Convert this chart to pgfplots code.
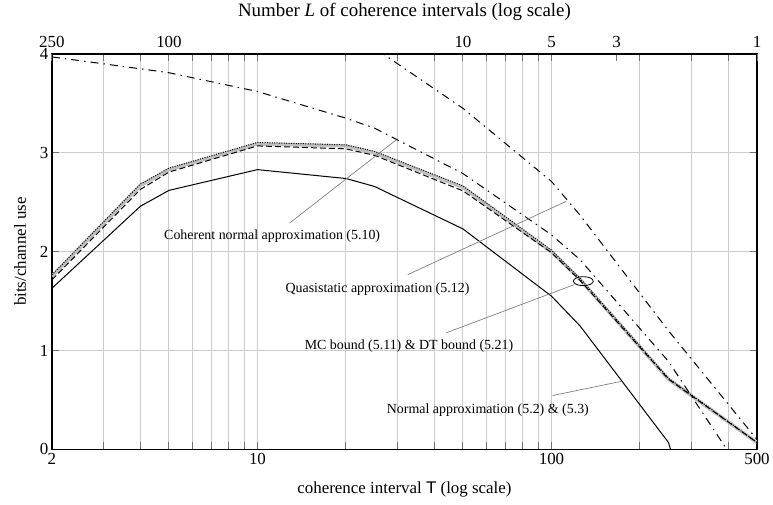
\documentclass[border=0pt]{standalone}
\usepackage{fontspec}
\setmainfont{Liberation Serif}
\setsansfont{Liberation Sans}
\usepackage{pgfplots}
\pgfplotsset{compat=1.18}

\tikzset{
  plot_mc/.style={color=black!25, line width=3.5bp},
  plot_dt/.style={color=black, line width=1bp, dash pattern=on 1bp off 1.4bp},
  plot_dash/.style={color=black, line width=1bp, dash pattern=on 6bp off 3bp},
  plot_na/.style={color=black, line width=1bp},
  plot_dd/.style={color=black, line width=1bp, dash pattern=on 8bp off 5bp on 1.5bp off 5bp},
  pointer/.style={color=black!50, line width=0.7bp},
  lbl/.style={font=\fontsize{14}{16}\selectfont, inner sep=0pt},
}

\begin{document}
\begin{tikzpicture}
\begin{axis}[%
  scale only axis, width=706bp, height=396bp,
  xmode=log, xmin=2, xmax=500,
  ymin=0, ymax=4,
  % x-axis
  xtick={2,10,100,500},
  xticklabels={2,10,100,500},
  minor xtick={3,4,5,6,7,8,9,20,30,40,50,60,70,80,90,200,300,400},
  xmajorgrids=true, xminorgrids=true,
  % y-axis
  ytick={0,1,2,3,4},
  ymajorgrids=true,
  grid style={black!20, line width=1bp},
  major grid style={black!20, line width=1bp},
  minor grid style={black!20, line width=1bp},
  tick style={black!55, line width=1bp},
  major tick length=7bp, minor tick length=7bp,
  tick align=inside,
  axis line style={black, line width=1.3bp},
  tick label style={font=\fontsize{17}{20}\selectfont},
  label style={font=\fontsize{17}{20}\selectfont},
  /pgf/number format/assume math mode=true,
  xlabel={coherence interval \textsf{T} (log scale)},
  ylabel={bits/channel use},
  xlabel style={at={([yshift=-40bp]axis description cs:0.5,0)}, anchor=center},
  ylabel style={at={([xshift=-32bp]axis description cs:0,0.5)}, anchor=center},
]
  \coordinate (O) at (rel axis cs:0,0);

  % MC bound (gray) and DT bound (dotted)
  \addplot [plot_mc] coordinates {
    (2,1.75) (4,2.67) (5,2.83) (10,3.09) (20,3.07) (25,3.00)
    (50,2.65) (100,2.00) (125,1.72) (250,0.71) (500,0.07)
  };
  \addplot [plot_dt] coordinates {
    (2,1.765) (4,2.685) (5,2.845) (10,3.105) (20,3.08) (25,3.015)
    (50,2.665) (100,2.015) (125,1.73) (250,0.72) (500,0.07)
  };
  \addplot [plot_dash] coordinates {
    (2,1.715) (4,2.63) (5,2.805) (10,3.07) (20,3.04) (25,2.975)
    (50,2.615) (100,1.99) (125,1.71) (250,0.71) (500,0.07)
  };
  % normal approximation
  \addplot [plot_na] coordinates {
    (2,1.63) (4,2.46) (5,2.62) (10,2.83) (20,2.74) (25,2.66)
    (50,2.23) (100,1.55) (125,1.25) (250,0.07) (500,-3)
  };
  % coherent normal approximation
  \addplot [plot_dd] coordinates {
    (2,3.97) (4,3.85) (5,3.81) (10,3.62) (20,3.35) (25,3.25)
    (50,2.79) (100,2.17) (125,1.92) (250,0.89) (500,-0.46)
  };
  % quasistatic approximation
  \addplot [plot_dd] coordinates {
    (20,4.26) (25,4.06) (50,3.45) (100,2.71) (125,2.37) (250,1.20) (500,0.10)
  };

  % annotations
  \draw [pointer] (axis cs:12.87,2.29) -- (axis cs:29.65,3.131);
  \node [lbl] at (axis cs:11.22,2.155) {Coherent normal approximation (5.10)};
  \draw [pointer] (axis cs:32.46,1.768) -- (axis cs:112.0,2.508);
  \node [lbl] at (axis cs:25.6,1.626) {Quasistatic approximation (5.12)};
  \draw [pointer] (axis cs:43.8,1.179) -- (axis cs:119.6,1.667);
  \draw [black, line width=0.8bp] (axis cs:128.3,1.702) ellipse [x radius=10bp, y radius=4.5bp];
  \node [lbl] at (axis cs:32.76,1.043) {MC bound (5.11) \& DT bound (5.21)};
  \draw [pointer] (axis cs:100.9,0.545) -- (axis cs:173.6,0.69);
  \node [lbl] at (axis cs:60.77,0.394) {Normal approximation (5.2) \& (5.3)};
\end{axis}

% top axis: number L of coherence intervals, L = 500/T
\begin{axis}[%
  scale only axis, width=706bp, height=396bp,
  xmode=log, xmin=2, xmax=500,
  ymin=0, ymax=4,
  axis x line*=top, axis y line=none,
  xtick={2,5,50,100,166.6667,500},
  xticklabels={250,100,10,5,3,1},
  minor xtick={},
  tick style={black!55, line width=1bp},
  major tick length=7bp,
  tick align=inside,
  axis line style={black, line width=1.3bp},
  tick label style={font=\fontsize{17}{20}\selectfont},
  xticklabel style={yshift=3bp},
  label style={font=\fontsize{19}{22}\selectfont},
  xlabel={Number \textit{L} of coherence intervals (log scale)},
  xlabel style={at={([yshift=42bp]axis description cs:0.5,1)}, anchor=center},
]
\end{axis}

\path (O) ++(-52bp,-55bp) rectangle ++(773bp,505bp);
\end{tikzpicture}
\end{document}
